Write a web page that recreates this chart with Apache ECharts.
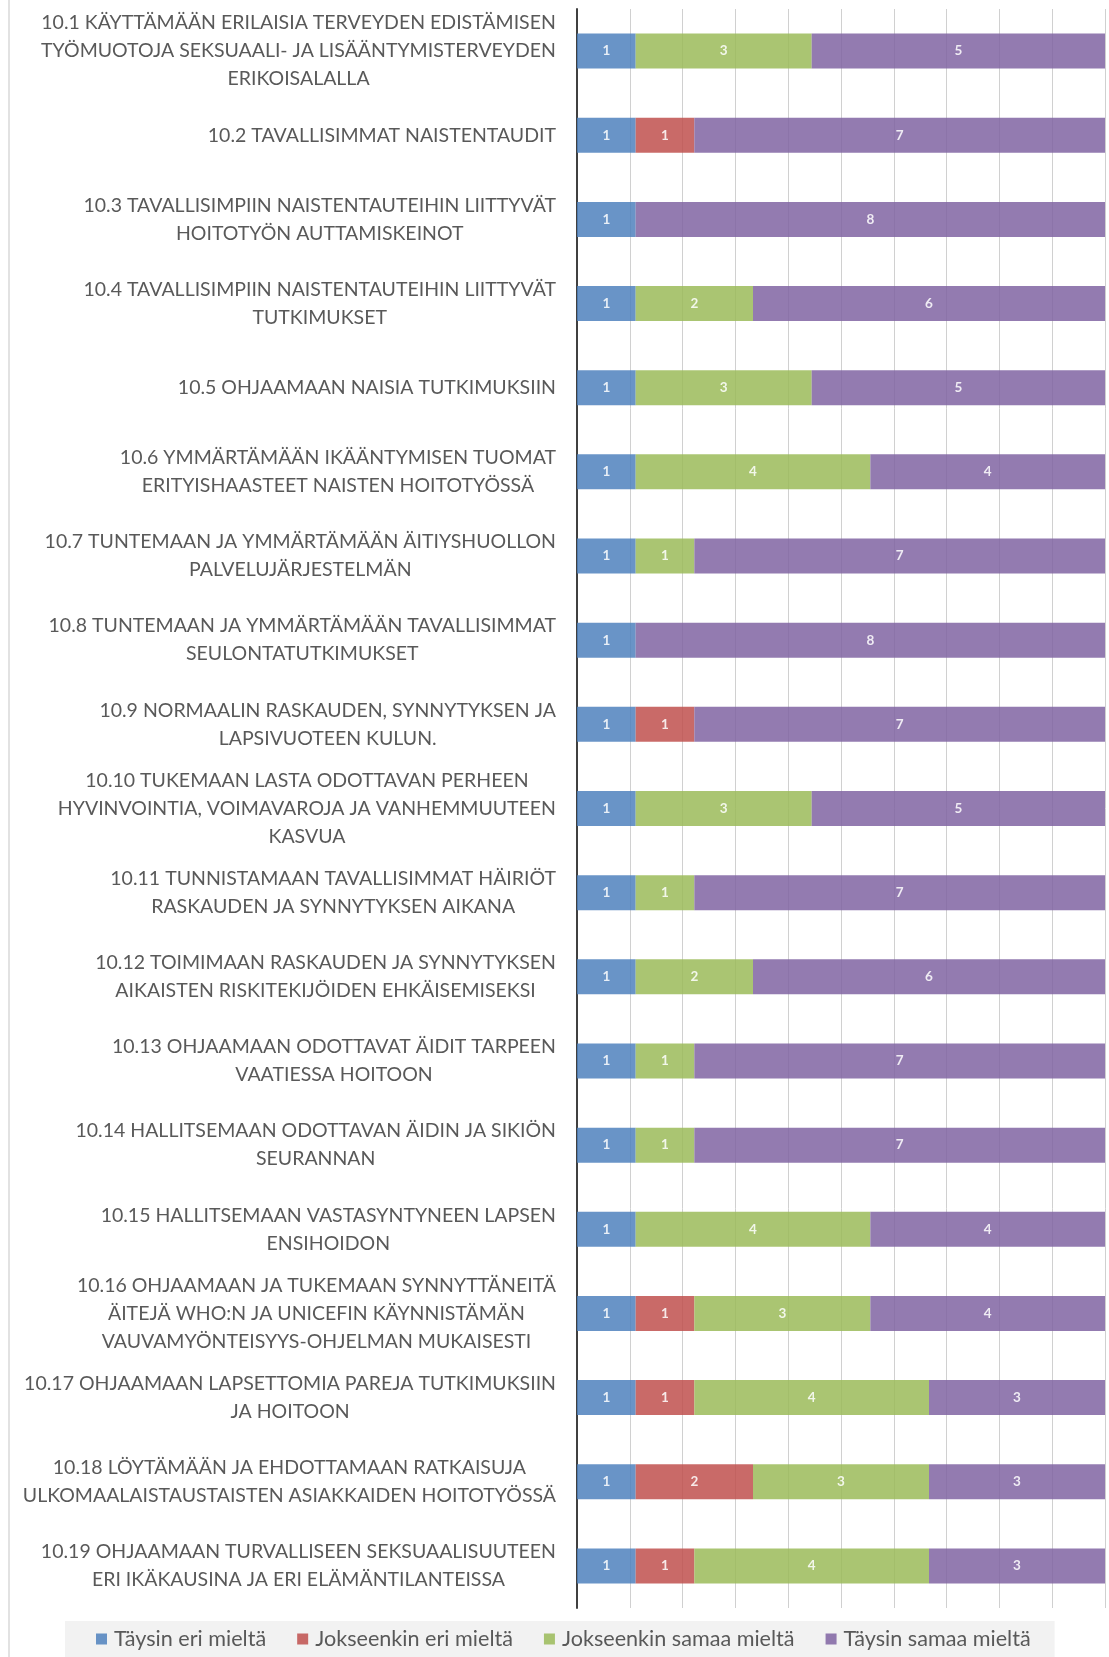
<!DOCTYPE html>
<html><head><meta charset="utf-8">
<script src="https://cdn.jsdelivr.net/npm/echarts@6/dist/echarts.min.js"></script>
<style>html,body{margin:0;padding:0;background:#fff}#c{width:1109px;height:1657px}</style>
</head><body><div id="c"></div>
<script>
const categories = [
  "10.1 KÄYTTÄMÄÄN ERILAISIA TERVEYDEN EDISTÄMISEN\nTYÖMUOTOJA SEKSUAALI- JA LISÄÄNTYMISTERVEYDEN\nERIKOISALALLA",
  "10.2 TAVALLISIMMAT NAISTENTAUDIT",
  "10.3 TAVALLISIMPIIN NAISTENTAUTEIHIN LIITTYVÄT\nHOITOTYÖN AUTTAMISKEINOT",
  "10.4 TAVALLISIMPIIN NAISTENTAUTEIHIN LIITTYVÄT\nTUTKIMUKSET",
  "10.5 OHJAAMAAN NAISIA TUTKIMUKSIIN",
  "10.6 YMMÄRTÄMÄÄN IKÄÄNTYMISEN TUOMAT\nERITYISHAASTEET NAISTEN HOITOTYÖSSÄ",
  "10.7 TUNTEMAAN JA YMMÄRTÄMÄÄN ÄITIYSHUOLLON\nPALVELUJÄRJESTELMÄN",
  "10.8 TUNTEMAAN JA YMMÄRTÄMÄÄN TAVALLISIMMAT\nSEULONTATUTKIMUKSET",
  "10.9 NORMAALIN RASKAUDEN, SYNNYTYKSEN JA\nLAPSIVUOTEEN KULUN.",
  "10.10 TUKEMAAN LASTA ODOTTAVAN PERHEEN\nHYVINVOINTIA, VOIMAVAROJA JA VANHEMMUUTEEN\nKASVUA",
  "10.11 TUNNISTAMAAN TAVALLISIMMAT HÄIRIÖT\nRASKAUDEN JA SYNNYTYKSEN AIKANA",
  "10.12 TOIMIMAAN RASKAUDEN JA SYNNYTYKSEN\nAIKAISTEN RISKITEKIJÖIDEN EHKÄISEMISEKSI",
  "10.13 OHJAAMAAN ODOTTAVAT ÄIDIT TARPEEN\nVAATIESSA HOITOON",
  "10.14 HALLITSEMAAN ODOTTAVAN ÄIDIN JA SIKIÖN\nSEURANNAN",
  "10.15 HALLITSEMAAN VASTASYNTYNEEN LAPSEN\nENSIHOIDON",
  "10.16 OHJAAMAAN JA TUKEMAAN SYNNYTTÄNEITÄ\nÄITEJÄ WHO:N JA UNICEFIN KÄYNNISTÄMÄN\nVAUVAMYÖNTEISYYS-OHJELMAN MUKAISESTI",
  "10.17 OHJAAMAAN LAPSETTOMIA PAREJA TUTKIMUKSIIN\nJA HOITOON",
  "10.18 LÖYTÄMÄÄN JA EHDOTTAMAAN RATKAISUJA\nULKOMAALAISTAUSTAISTEN ASIAKKAIDEN HOITOTYÖSSÄ",
  "10.19 OHJAAMAAN TURVALLISEEN SEKSUAALISUUTEEN\nERI IKÄKAUSINA JA ERI ELÄMÄNTILANTEISSA"
];
const seriesNames = ["Täysin eri mieltä", "Jokseenkin eri mieltä", "Jokseenkin samaa mieltä", "Täysin samaa mieltä"];
const taysinEri     = [1,1,1,1,1,1,1,1,1,1,1,1,1,1,1,1,1,1,1];
const jokseenkinEri = [0,1,0,0,0,0,0,0,1,0,0,0,0,0,0,1,1,2,1];
const jokseenkinSamaa = [3,0,0,2,3,4,1,0,0,3,1,2,1,1,4,3,4,3,4];
const taysinSamaa   = [5,7,8,6,5,4,7,8,7,5,7,6,7,7,4,4,3,3,3];
const colors = ["#4F81BD", "#C0504D", "#9BBB59", "#8064A2"];

const raw = [taysinEri, jokseenkinEri, jokseenkinSamaa, taysinSamaa];
const totals = categories.map((_, i) => raw.reduce((s, a) => s + a[i], 0));
const FONT = "Lato";

const chart = echarts.init(document.getElementById('c'), null, {renderer: 'canvas'});
chart.setOption({
  animation: false,
  backgroundColor: '#fff',
  textStyle: {fontFamily: FONT},
  grid: {left: 577, right: 4, top: 9, bottom: 49, containLabel: false},
  xAxis: {
    type: 'value', min: 0, max: 100, interval: 10,
    axisLabel: {show: false}, axisTick: {show: false}, axisLine: {show: false},
    splitLine: {show: true, lineStyle: {color: '#d0d0d0', width: 1}}
  },
  yAxis: {
    type: 'category', inverse: true, data: categories,
    axisTick: {show: false},
    axisLine: {show: true, lineStyle: {color: '#404040', width: 2}},
    axisLabel: {
      margin: 21, color: '#595959', fontSize: 19.5, fontFamily: FONT, lineHeight: 28,
      formatter: v => v.split('\n').map(l => '{c|' + l + '}').join('\n'),
      rich: {c: {align: 'center', fontSize: 19.5, lineHeight: 28, color: '#595959', fontFamily: FONT}}
    }
  },
  legend: {
    left: 65, top: 1621,
    backgroundColor: '#f2f2f2',
    padding: [7, 24, 7, 31],
    itemGap: 31, itemWidth: 11, itemHeight: 11, icon: 'rect',
    textStyle: {color: '#595959', fontSize: 21.6, fontFamily: FONT, padding: [0, 0, 0, 2]},
    data: seriesNames
  },
  series: raw.map((arr, k) => ({
    name: seriesNames[k], type: 'bar', stack: 'all', barWidth: 35,
    itemStyle: {color: colors[k], opacity: 0.85},
    label: {
      show: true, position: 'inside', color: '#fff', fontSize: 13.5, fontWeight: 'bold', fontFamily: FONT,
      formatter: p => String(arr[p.dataIndex])
    },
    data: arr.map((v, i) => v ? v / totals[i] * 100 : null)
  })),
  graphic: [{type: 'line', shape: {x1: 9, y1: 0, x2: 9, y2: 1657}, style: {stroke: '#d9d9d9', lineWidth: 1.5}, silent: true}]
});
</script></body></html>
